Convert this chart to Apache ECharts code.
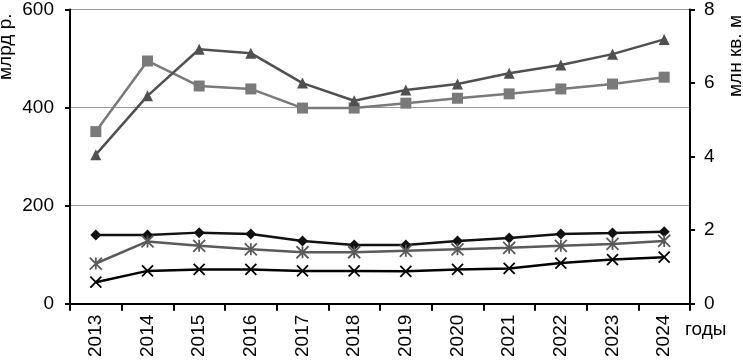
<!DOCTYPE html>
<html>
<head>
<meta charset="utf-8">
<script src="https://cdn.jsdelivr.net/npm/echarts@6/dist/echarts.min.js"></script>
<style>
  html, body { margin: 0; padding: 0; background: #fff; }
  #chart { width: 743px; height: 360px; }
</style>
</head>
<body>
<div id="chart"></div>
<script>
  // годы
  var years = ['2013', '2014', '2015', '2016', '2017', '2018', '2019', '2020', '2021', '2022', '2023', '2024'];
  // ряды (значения по левой оси, млрд р.)
  var squareData = [351, 495, 444, 438, 399, 399, 409, 419, 428, 438, 448, 462];
  var triangleData = [304, 424, 519, 511, 450, 414, 436, 448, 470, 487, 509, 539];
  var diamondData = [140, 140, 145, 142, 128, 120, 120, 128, 134, 142, 144, 147];
  var starData = [82, 127, 118, 111, 105, 105, 108, 111, 114, 118, 122, 128];
  var crossData = [44, 67, 70, 70, 67, 67, 66, 70, 72, 83, 90, 95];
  var leftTicks = [0, 200, 400, 600];
  var rightTicks = [0, 2, 4, 6, 8];

  var font = 'Liberation Sans, Arial, sans-serif';
  var crossPath = 'path://M0,0L10,10M10,0L0,10';
  var starPath = 'path://M0,0L10,10M10,0L0,10M5,0L5,10';

  var myChart = echarts.init(document.getElementById('chart'));

  function lineSeries(data, color, symbol, size, width, strokeSym) {
    var s = {
      type: 'line',
      data: data,
      symbol: symbol,
      symbolSize: size,
      animation: false,
      lineStyle: { color: color, width: width },
      itemStyle: { color: color }
    };
    if (strokeSym) {
      s.itemStyle = { color: 'rgba(0,0,0,0)', borderColor: color, borderWidth: 1.8 };
    }
    return s;
  }

  var option = {
    backgroundColor: '#fff',
    grid: { left: 70, right: 53, top: 9, bottom: 55 },
    xAxis: {
      type: 'category',
      data: years,
      boundaryGap: true,
      axisLine: { lineStyle: { color: '#000', width: 2 } },
      axisTick: { show: true, length: 7, lineStyle: { color: '#000', width: 2 } },
      axisLabel: { rotate: 90, color: '#000', fontSize: 19, fontFamily: font, margin: 11 }
    },
    yAxis: [{
      type: 'value',
      min: leftTicks[0],
      max: leftTicks[leftTicks.length - 1],
      interval: 200,
      position: 'left',
      axisLine: { show: true, lineStyle: { color: '#000', width: 2 } },
      axisTick: { show: true, length: 5, lineStyle: { color: '#000', width: 2 } },
      axisLabel: { color: '#000', fontSize: 19, fontFamily: font, margin: 16 },
      splitLine: { lineStyle: { color: '#9a9a9a', width: 1 } }
    }, {
      type: 'value',
      min: rightTicks[0],
      max: rightTicks[rightTicks.length - 1],
      interval: 2,
      position: 'right',
      axisLine: { show: true, lineStyle: { color: '#000', width: 2 } },
      axisTick: { show: true, length: 5, lineStyle: { color: '#000', width: 2 } },
      axisLabel: { color: '#000', fontSize: 19, fontFamily: font, margin: 14 },
      splitLine: { show: false }
    }],
    series: [
      lineSeries(squareData, '#7a7a7a', 'rect', 11, 2.5),
      lineSeries(triangleData, '#505050', 'triangle', 11, 2.5),
      lineSeries(diamondData, '#111', 'diamond', 11, 2.5),
      lineSeries(starData, '#5a5a5a', starPath, 12, 2.5, true),
      lineSeries(crossData, '#000', crossPath, 11, 2.5, true)
    ],
    graphic: [{
      type: 'text',
      x: -4, y: 80, rotation: Math.PI / 2,
      style: { text: 'млрд р.', fill: '#000', font: '19px ' + font }
    }, {
      type: 'text',
      x: 726, y: 97, rotation: Math.PI / 2,
      style: { text: 'млн кв. м', fill: '#000', font: '19px ' + font }
    }, {
      type: 'text',
      x: 685, y: 320,
      style: { text: 'годы', fill: '#000', font: '19px ' + font }
    }]
  };
  myChart.setOption(option);
</script>
</body>
</html>
